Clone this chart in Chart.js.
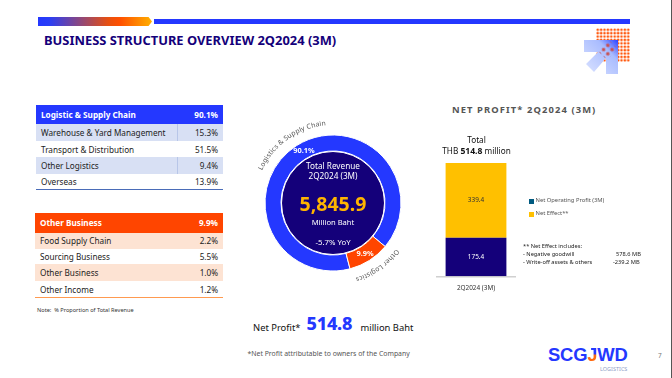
<!DOCTYPE html>
<html><head><meta charset="utf-8">
<script src="https://cdn.jsdelivr.net/npm/chart.js@4"></script>
<style>
html,body{margin:0;padding:0;background:#fff;}
body{width:672px;height:378px;position:relative;overflow:hidden;font-family:"Noto Sans",sans-serif;color:#222;}
.a{position:absolute;white-space:nowrap;line-height:1;}
.c{text-align:center;}
canvas{position:absolute;}
.row{position:absolute;font-size:8.2px;display:flex;justify-content:space-between;align-items:center;box-sizing:border-box;padding:0 5px;}
.hd{color:#fff;font-weight:700;}
</style></head><body>
<div class="a" style="left:671px;top:0;width:1px;height:378px;background:#555"></div>
<div class="a" style="left:38px;top:17px;width:114px;height:9px;background:linear-gradient(90deg,#2438ff 0%,#2a3ef5 10%,#e8500f 62%,#ff5000 72%,#ffb000 100%);clip-path:polygon(0 0,97% 0,100% 50%,97% 100%,0 100%)"></div>
<div class="a" style="left:154px;top:19px;width:476px;height:5px;background:#2438ff"></div>
<div class="a" id="title" style="left:44px;top:33.5px;font-size:12.9px;font-weight:700;color:#14007a;">BUSINESS STRUCTURE OVERVIEW 2Q2024 (3M)</div>

<svg class="a" style="left:580px;top:24px" width="54" height="56" viewBox="580 24 54 56">
<defs>
<pattern id="dots" x="596" y="28" width="3.4" height="3.4" patternUnits="userSpaceOnUse"><circle cx="1.7" cy="1.7" r="1.35" fill="#ff5a10"/></pattern>
<pattern id="red" x="0" y="0" width="6" height="6" patternUnits="userSpaceOnUse" patternTransform="rotate(45 605 51)"><circle cx="3" cy="3" r="1.8" fill="#c8504f"/></pattern>
<linearGradient id="arr" x1="1" y1="0" x2="0" y2="1"><stop offset="0" stop-color="#2a40ff"/><stop offset=".3" stop-color="#a9bcff"/><stop offset="1" stop-color="#dce4ff"/></linearGradient>
</defs>
<rect x="596" y="28" width="34" height="34" fill="url(#dots)"/>
<polygon points="584,40 618,40 618,74 606,74 606,58 594,72 586,64 598,52 584,52" fill="url(#arr)"/>
<polygon points="598,51 609,40 618,49 607,60" fill="url(#red)"/>
</svg>

<div id="tables"></div>
<div class="a" style="left:37px;top:307.5px;font-size:5.6px;color:#333">Note:&nbsp; % Proportion of Total Revenue</div>

<canvas id="donut" width="200" height="200" style="left:233px;top:103px;width:200px;height:200px"></canvas>
<div class="a c" style="left:283px;width:100px;top:161px;font-size:8.2px;line-height:10px;color:#fff">Total Revenue<br>2Q2024 (3M)</div>
<div class="a c" style="left:283px;width:100px;top:194px;font-size:19.5px;font-weight:700;color:#ffb400">5,845.9</div>
<div class="a c" style="left:283px;width:100px;top:219px;font-size:7.6px;color:#fff">Million Baht</div>
<div class="a c" style="left:283px;width:100px;top:239px;font-size:7.8px;color:#fff">-5.7% YoY</div>

<div class="a" style="left:452px;top:104.5px;font-size:9.4px;font-weight:700;letter-spacing:1.1px;color:#555">NET PROFIT* 2Q2024 (3M)</div>
<div class="a c" style="left:420px;width:113px;top:134px;font-size:8.2px;line-height:11px;color:#111">Total<br>THB <b style="font-size:8.6px">514.8</b> million</div>
<canvas id="bars" width="80" height="136" style="left:436px;top:160px;width:80px;height:136px"></canvas>

<div class="a" style="left:529px;top:199px;width:5px;height:5px;background:#005a80"></div>
<div class="a" style="left:535.5px;top:197.5px;font-size:5.8px;color:#555">Net Operating Profit (3M)</div>
<div class="a" style="left:529px;top:212px;width:5px;height:5px;background:#ffc000"></div>
<div class="a" style="left:535.5px;top:210.5px;font-size:5.8px;color:#555">Net Effect**</div>
<div class="a" style="left:523px;top:244px;font-size:5.7px;color:#222">** Net Effect includes:</div>
<div class="a" style="left:523px;top:252px;font-size:5.7px;color:#222">- Negative goodwill</div>
<div class="a" style="left:616px;top:252px;font-size:5.7px;color:#222">578.6 MB</div>
<div class="a" style="left:523px;top:259.5px;font-size:5.7px;color:#222">- Write-off assets &amp; others</div>
<div class="a" style="left:613px;top:259.5px;font-size:5.7px;color:#222">-239.2 MB</div>

<div class="a" style="left:253px;top:322.5px;font-size:9.4px;color:#111">Net Profit*</div>
<div class="a" style="left:306.5px;top:314px;font-size:18px;font-weight:800;color:#2438ff;letter-spacing:-.2px">514.8</div>
<div class="a" style="left:360.5px;top:322.5px;font-size:9.4px;color:#111">million Baht</div>
<div class="a" style="left:247.5px;top:351px;font-size:6.9px;color:#555">*Net Profit attributable to owners of the Company</div>
<div class="a" style="left:548px;top:346.5px;font-size:18.4px;line-height:16.5px;color:#2438ff;letter-spacing:-.2px;font-family:'Liberation Sans',sans-serif;font-weight:700">SCG<span style="background:linear-gradient(180deg,#2438ff 45%,#ff6a10 55%);-webkit-background-clip:text;background-clip:text;color:transparent">J</span>WD</div>
<div class="a" style="left:600px;top:367px;font-size:5.5px;color:#8fa0c8">LOGISTICS</div>
<div class="a" style="left:658px;top:353px;font-size:6.5px;color:#777">7</div>

<script>
const revenueLabels = ["Logistics & Supply Chain", "Other Logistics"];
const revenueShare = [90.1, 9.9];
const revenueColors = ["#2438ff", "#ff4500"];

const profitCategory = ["2Q2024 (3M)"];
const netOperatingProfit = [175.4];
const netEffect = [339.4];

const logisticRows = [["Warehouse & Yard Management","15.3%"],["Transport & Distribution","51.5%"],["Other Logistics","9.4%"],["Overseas","13.9%"]];
const otherRows = [["Food Supply Chain","2.2%"],["Sourcing Business","5.5%"],["Other Business","1.0%"],["Other Income","1.2%"]];

function table(x,w,hy,hh,color,shade,line,head,val,rows,ys,divider){
  const t=document.getElementById('tables');
  const add=(top,h,bg,a,b,cls)=>{
    const d=document.createElement('div');d.className='row '+(cls||'');
    d.style.cssText=`left:${x}px;width:${w}px;top:${top}px;height:${h}px;background:${bg}`;
    d.innerHTML=`<span>${a.replace('&','&amp;')}</span><span>${b}</span>`;t.appendChild(d);
    if(divider&&bg!=='#fff'&&!cls){const v=document.createElement('div');v.className='a';v.style.cssText=`left:${x+141}px;top:${top}px;width:1px;height:${h}px;background:#b8c6e8`;t.appendChild(v);}
  };
  add(hy,hh,color,head,val,'hd');
  rows.forEach((r,i)=>add(ys[i],ys[i+1]-ys[i],i%2?'#fff':shade,r[0],r[1]));
  const l=document.createElement('div');l.className='a';l.style.cssText=`left:${x}px;width:${w}px;top:${ys[4]-.5}px;height:1px;background:${line}`;t.appendChild(l);
}
table(36,187,105,19.3,'#2438ff','#d8e0f4','#4a6cb8','Logistic & Supply Chain','90.1%',logisticRows,[124.3,141,157,174,189.5],true);
table(35,188,213.3,19.4,'#ff4500','#fde3d3','#ff9a50','Other Business','9.9%',otherRows,[232.7,249,264,281,297.5],false);

const arcText={id:'arcText',
  beforeDatasetsDraw(c){const m=c.getDatasetMeta(0).data[0];const g=c.ctx;
    g.save();g.beginPath();g.arc(m.x,m.y,51.5,0,Math.PI*2);g.fillStyle='#14007a';g.fill();g.lineWidth=1;g.strokeStyle='#fff';g.stroke();g.restore();},
  afterDatasetsDraw(c){const g=c.ctx;
    c.getDatasetMeta(0).data.forEach((el,i)=>{
      const p=el.getCenterPoint();
      g.save();g.font='700 7.4px "Noto Sans"';g.fillStyle='#fff';g.textAlign='center';g.textBaseline='middle';
      g.fillText(revenueShare[i].toFixed(1)+'%',p.x+(i===0?3:0),p.y+(i===0?-1:0));g.restore();
      const r=78,s=revenueLabels[i],mid=(el.startAngle+el.endAngle)/2-3*Math.PI/180;
      g.save();g.font='6.8px "Noto Sans"';g.fillStyle='#555';g.textAlign='center';g.textBaseline='alphabetic';
      const w=g.measureText(s).width*1.06;let a=mid-w/2/r;
      for(const ch of s){const cw=g.measureText(ch).width*1.06;a+=cw/2/r;
        g.save();g.translate(el.x+Math.cos(a)*r,el.y+Math.sin(a)*r);g.rotate(a+Math.PI/2);g.fillText(ch,0,0);g.restore();a+=cw/2/r;}
      g.restore();
    });
  }};
new Chart(document.getElementById('donut'),{type:'doughnut',
  data:{labels:revenueLabels,datasets:[{data:revenueShare,backgroundColor:revenueColors,borderColor:'#fff',borderWidth:1}]},
  options:{responsive:false,animation:false,rotation:165.5,radius:68,cutout:'76.5%',
    plugins:{legend:{display:false},tooltip:{enabled:false}},layout:{padding:0}},
  plugins:[arcText]});

const barText={id:'barText',afterDatasetsDraw(c){const g=c.ctx;
  c.data.datasets.forEach((ds,i)=>{const el=c.getDatasetMeta(i).data[0];
    g.save();g.font='6.4px "Noto Sans"';g.textAlign='center';g.textBaseline='middle';g.fillStyle=i===0?'#fff':'#333';
    g.fillText(ds.data[0].toFixed(1),el.x,(el.y+el.base)/2);g.restore();});}};
new Chart(document.getElementById('bars'),{type:'bar',
  data:{labels:profitCategory,datasets:[
    {label:'Net Operating Profit (3M)',data:netOperatingProfit,backgroundColor:'#14007a',barPercentage:.76,categoryPercentage:1},
    {label:'Net Effect**',data:netEffect,backgroundColor:'#ffc000',barPercentage:.76,categoryPercentage:1}]},
  options:{responsive:false,animation:false,layout:{padding:{top:3,left:0,right:0,bottom:4}},
    plugins:{legend:{display:false},tooltip:{enabled:false}},
    scales:{
      x:{stacked:true,grid:{display:false},border:{color:'#d0d0d0',width:1.5},ticks:{color:'#333',font:{size:6.4,family:'"Noto Sans"'},padding:0,maxRotation:0}},
      y:{stacked:true,display:false,min:0,max:514.8}}},
  plugins:[barText]});
</script>
</body></html>
